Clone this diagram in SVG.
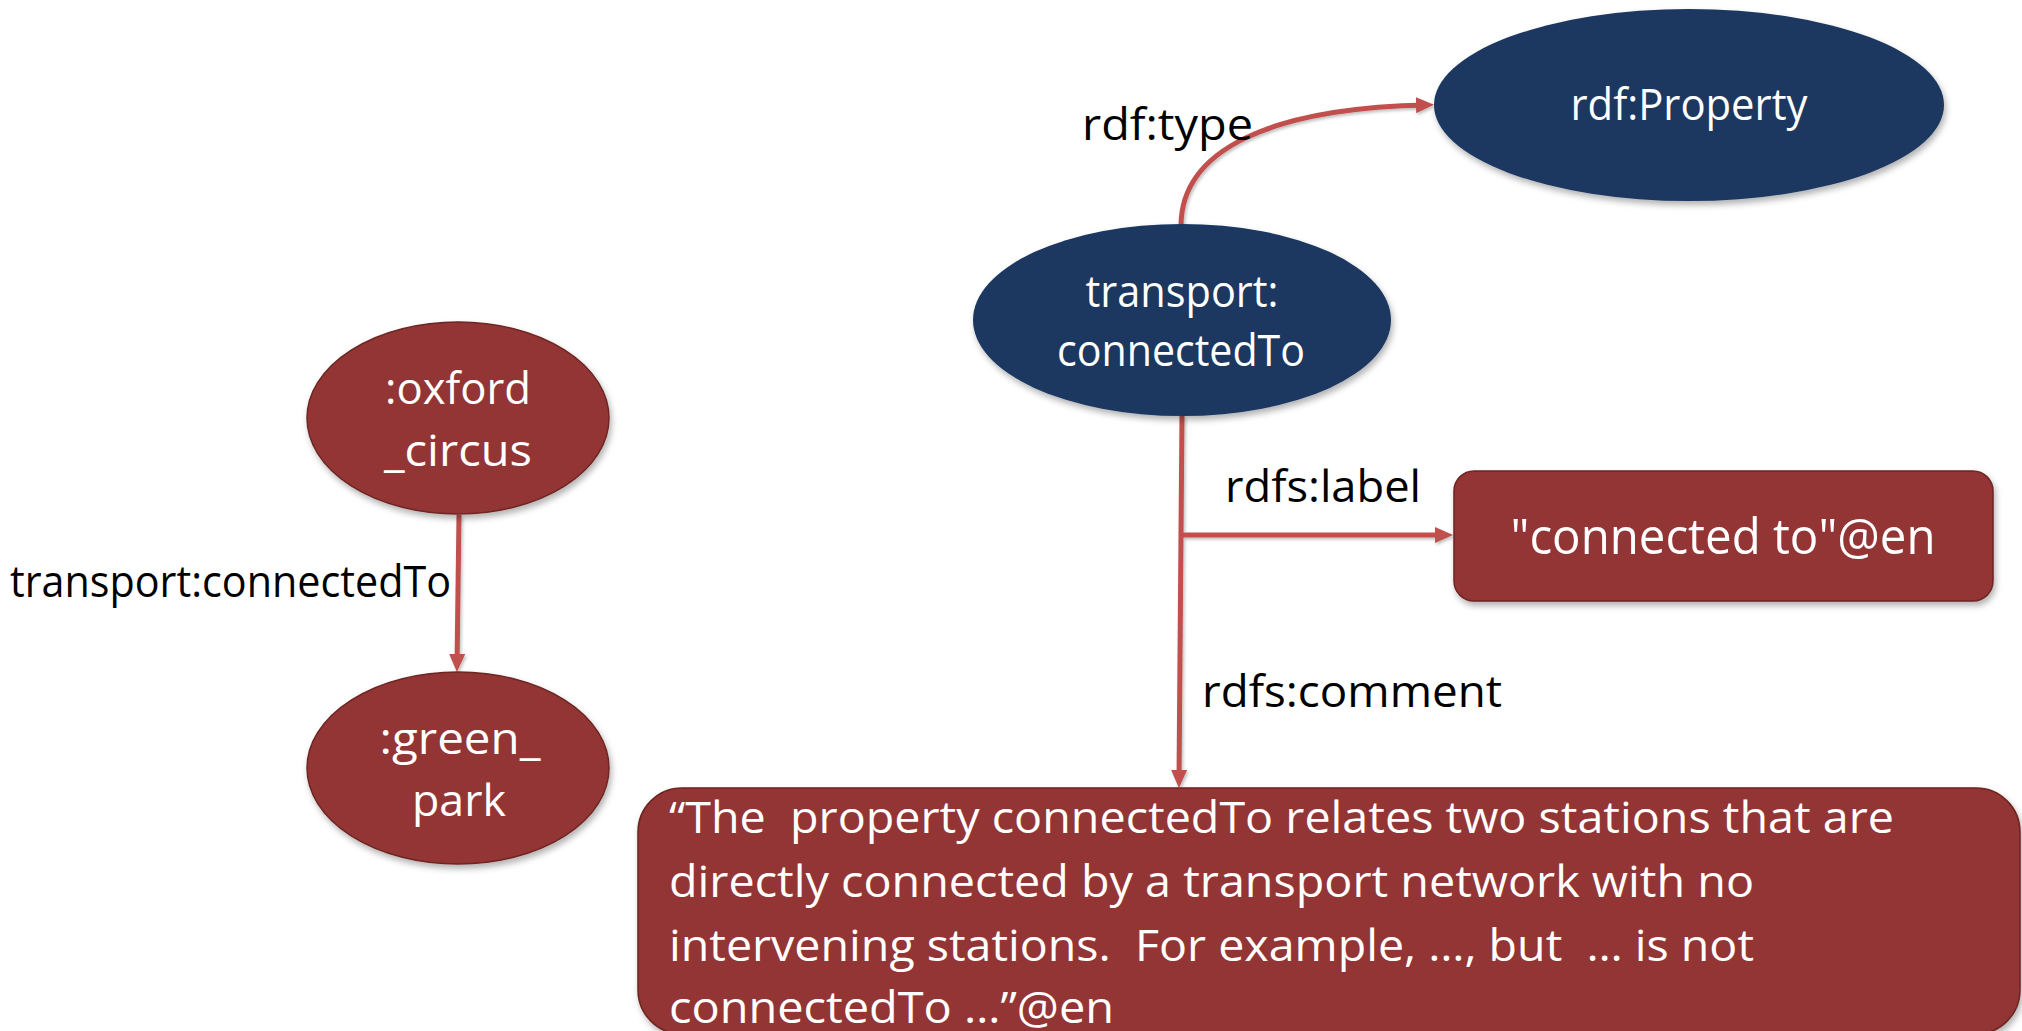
<svg xmlns="http://www.w3.org/2000/svg" width="2022" height="1031" viewBox="0 0 2022 1031">
  <style>
    .txt { font-family: "Open Sans", "Liberation Sans", sans-serif; white-space: pre; }
    .lbl { fill: #000000; font-size: 43px; }
    .in { fill: #ffffff; font-size: 43px; text-anchor: middle; }
    .blue { fill: #1B3761; filter: url(#shadow); }
    .red { fill: #943634; stroke: #6E2523; stroke-width: 1.5; filter: url(#shadow); }
    .edge { fill: none; stroke: #C0504D; stroke-width: 5; marker-end: url(#arrow); }
    .plain { fill: none; stroke: #C0504D; stroke-width: 5; }
  </style>
  <defs>
    <filter id="shadow" x="-10%" y="-10%" width="125%" height="130%">
      <feDropShadow dx="2" dy="4" stdDeviation="3" flood-color="#000000" flood-opacity="0.3"/>
    </filter>
    <!-- user-space region so thin horizontal/vertical strokes are not clipped -->
    <filter id="lineShadow" filterUnits="userSpaceOnUse" x="0" y="0" width="2022" height="1031">
      <feDropShadow dx="1.5" dy="2" stdDeviation="1.5" flood-color="#000000" flood-opacity="0.25"/>
    </filter>
    <marker id="arrow" markerUnits="userSpaceOnUse" markerWidth="18" markerHeight="16" refX="11" refY="8" orient="auto">
      <path d="M0,0 L18,8 L0,16 z" fill="#C0504D"/>
    </marker>
  </defs>

  <rect width="2022" height="1031" fill="#ffffff"/>

  <!-- connectors -->
  <g id="connectors" filter="url(#lineShadow)">
    <path id="e-oxford-green" class="edge" d="M459,515 L457,665"/>
    <path id="e-type" class="edge" d="M1181,226 C1181,150 1270,108 1427,105"/>
    <path id="e-trunk" class="plain" d="M1182,416 L1181,535"/>
    <path id="e-comment" class="edge" d="M1181,535 L1179,781"/>
    <path id="e-label" class="edge" d="M1182,535 L1446,535"/>
  </g>

  <!-- connector labels -->
  <g id="edge-labels" class="txt lbl">
    <text x="10" y="597" textLength="441" lengthAdjust="spacingAndGlyphs">transport:connectedTo</text>
    <text x="1082" y="140" textLength="171" lengthAdjust="spacingAndGlyphs">rdf:type</text>
    <text x="1225" y="502" textLength="196" lengthAdjust="spacingAndGlyphs">rdfs:label</text>
    <text x="1202" y="707" textLength="300" lengthAdjust="spacingAndGlyphs">rdfs:comment</text>
  </g>

  <!-- nodes -->
  <g id="n-oxford-circus">
    <ellipse class="red" cx="458" cy="418" rx="151" ry="96"/>
    <text class="txt in" x="458" y="404" textLength="146" lengthAdjust="spacingAndGlyphs">:oxford</text>
    <text class="txt in" x="458" y="466" textLength="148" lengthAdjust="spacingAndGlyphs">_circus</text>
  </g>

  <g id="n-green-park">
    <ellipse class="red" cx="458" cy="768" rx="151" ry="96"/>
    <text class="txt in" x="460" y="754" textLength="161" lengthAdjust="spacingAndGlyphs">:green_</text>
    <text class="txt in" x="459" y="816" textLength="94" lengthAdjust="spacingAndGlyphs">park</text>
  </g>

  <g id="n-connectedTo">
    <ellipse class="blue" cx="1182" cy="320" rx="209" ry="96"/>
    <text class="txt in" x="1182" y="307" textLength="193" lengthAdjust="spacingAndGlyphs">transport:</text>
    <text class="txt in" x="1181" y="366" textLength="248" lengthAdjust="spacingAndGlyphs">connectedTo</text>
  </g>

  <g id="n-property">
    <ellipse class="blue" cx="1689" cy="105" rx="255" ry="96"/>
    <text class="txt in" x="1689" y="120" textLength="237" lengthAdjust="spacingAndGlyphs">rdf:Property</text>
  </g>

  <g id="n-label-literal">
    <rect class="red" x="1454" y="471" width="539" height="130" rx="20" ry="20"/>
    <text class="txt in" x="1723" y="554" style="font-size:50px" textLength="425" lengthAdjust="spacingAndGlyphs">"connected to"@en</text>
  </g>

  <g id="n-comment-literal">
    <rect class="red" x="638" y="788" width="1382" height="246" rx="44" ry="44"/>
    <g class="txt" fill="#ffffff" font-size="44">
      <text xml:space="preserve" x="669" y="833" textLength="1225" lengthAdjust="spacingAndGlyphs">“The  property connectedTo relates two stations that are</text>
      <text xml:space="preserve" x="669" y="897" textLength="1085" lengthAdjust="spacingAndGlyphs">directly connected by a transport network with no</text>
      <text xml:space="preserve" x="669" y="961" textLength="1085" lengthAdjust="spacingAndGlyphs">intervening stations.  For example, …, but  … is not</text>
      <text xml:space="preserve" x="669" y="1023" textLength="445" lengthAdjust="spacingAndGlyphs">connectedTo …”@en</text>
    </g>
  </g>
</svg>
